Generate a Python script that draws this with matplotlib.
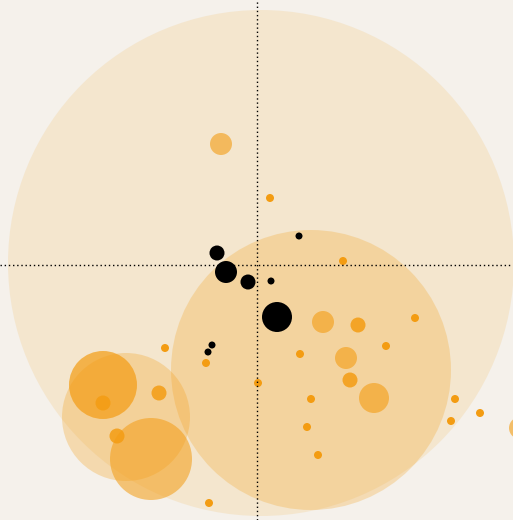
import matplotlib.pyplot as plt
from matplotlib.patches import Circle

# bubbles: position relative to the crosshair, radius, opacity
orange_x = [4, 54, -131, -154, -106,
            -36, 66, 89, 117, 263,
            -154, -98, -140, 101, 93,
            -92, -51, -48, 13, 86, 158, 129, 43, 1, 54, 50, 61, 198, 223, 194]
orange_y = [2, -105, -152, -120, -194,
            121, -57, -93, -133, -163,
            -138, -128, -171, -60, -115,
            -83, -98, -238, 67, 4, -53, -81, -89, -118, -134, -162, -190, -134, -148, -156]
orange_r = [253, 140, 64, 34, 41,
            11, 11, 11, 15, 11,
            7.5, 7.5, 7.5, 7.5, 7.5] + [4] * 15
orange_a = [0.13, 0.25, 0.28, 0.7, 0.55,
            0.6, 0.6, 0.6, 0.6, 0.6,
            0.85, 0.85, 0.85, 0.85, 0.85] + [1.0] * 15

black_x = [-45, -49, -31, -9, -40, 42, 14, 20]
black_y = [-80, -87, -7, -17, 12, 29, -16, -52]
black_r = [3.5, 3.5, 11, 7.5, 7.5, 3.5, 3.5, 15]

bg = '#f5f1eb'
fig = plt.figure(figsize=(5.13, 5.20), dpi=100, facecolor=bg)
ax = fig.add_axes([0, 0, 1, 1])
ax.set_facecolor(bg)

for x, y, r, a in zip(orange_x, orange_y, orange_r, orange_a):
    ax.add_patch(Circle((x, y), r, facecolor='#f39c12', alpha=a, lw=0))

for x, y, r in zip(black_x, black_y, black_r):
    ax.add_patch(Circle((x, y), r, facecolor='black', lw=0, zorder=3))

# crosshair
ax.axhline(0, color='black', lw=1, ls=(0, (1, 2)), zorder=4)
ax.axvline(0, color='black', lw=1, ls=(0, (1, 2)), zorder=4)

ax.set_xlim(-257, 256)
ax.set_ylim(-255, 265)
ax.set_aspect('equal')
ax.axis('off')

fig.savefig('out.png', dpi=100, facecolor=bg)
